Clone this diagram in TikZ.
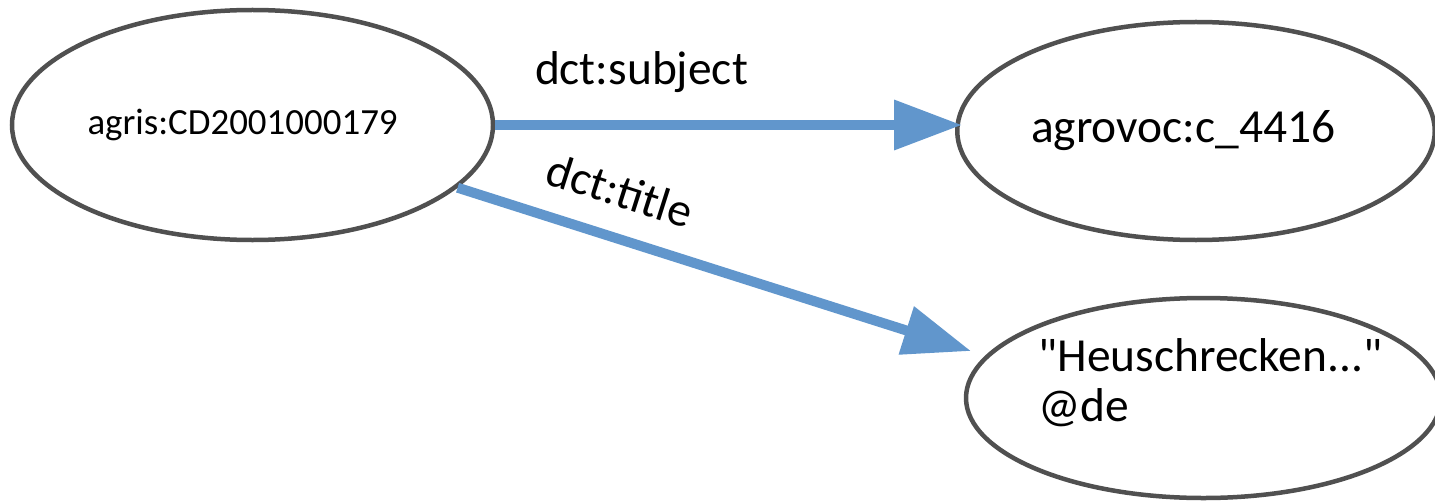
\documentclass[tikz,border=0pt]{standalone}
\usepackage{fontspec}
\setmainfont{Carlito}[Ligatures=TeXOff]
\usepackage{tikz}
\usepackage{xcolor}
\usetikzlibrary{shapes.geometric, arrows.meta}

\definecolor{edgeblue}{RGB}{97,150,204}
\definecolor{rimgray}{RGB}{80,80,80}

\begin{document}
\begin{tikzpicture}[
  res/.style={draw=rimgray, line width=0.09cm, ellipse, inner sep=0pt, text width=6.6cm, align=left, font=\fontsize{27}{28.5}\selectfont},
  rel/.style={draw=edgeblue, line width=0.2cm, -{Triangle[length=1.36cm,width=0.96cm]}},
  lbl/.style={inner sep=0pt, sloped, font=\fontsize{27}{28.5}\selectfont}
]
\useasboundingbox (0,0) rectangle (28.7,-10.02);

\node[res, minimum width=9.62cm, minimum height=4.6cm, font=\fontsize{21}{25}\selectfont] (a) at (5.05,-2.5) {agris:CD2001000179};
\node[res, minimum width=9.55cm, minimum height=4.36cm] (c) at (23.92,-2.62) {agrovoc:c\_4416};
\node[res, minimum width=9.5cm, minimum height=4.0cm, text height=0.7cm, text depth=1.75cm] (t) at (24.07,-7.96) {"Heuschrecken..."\\@de};

\draw[rel, shorten >=-0.14cm] (a.east) -- node[lbl, pos=0.318, above=0.55cm] {dct:subject} (a.east -| c.west);
\draw[rel, shorten >=0.3cm] (a.-17) -- node[lbl, pos=0.281, above=0.5cm] {dct:title} (t.169);
\end{tikzpicture}
\end{document}
